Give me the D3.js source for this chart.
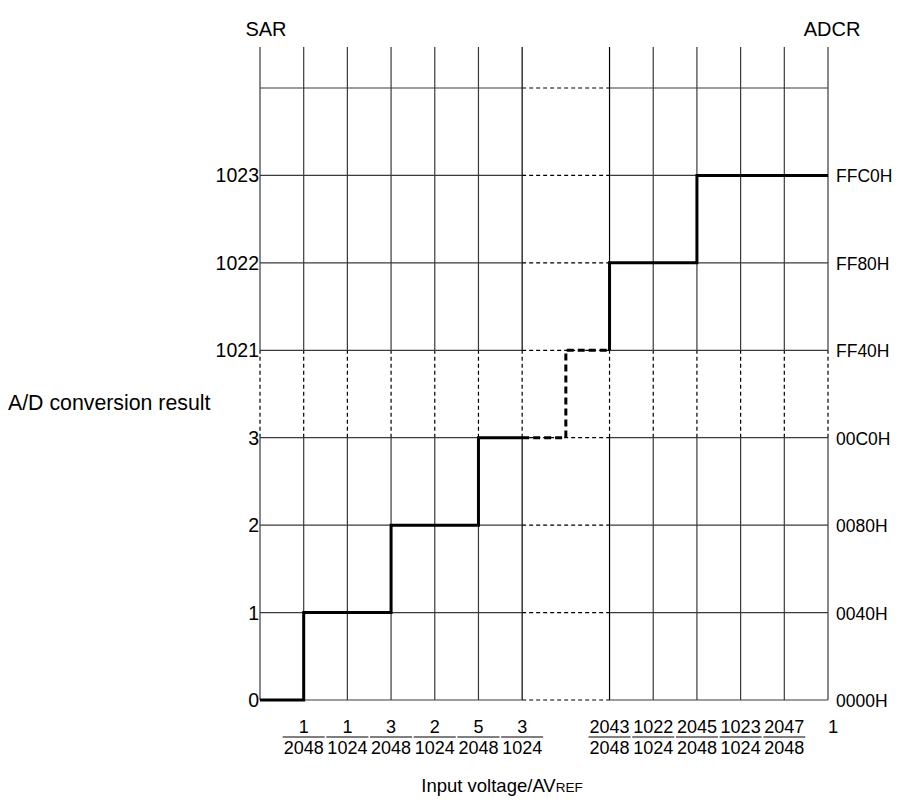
<!DOCTYPE html>
<html>
<head>
<meta charset="utf-8">
<script src="https://cdn.jsdelivr.net/npm/d3@7"></script>
<style>
  body { margin: 0; background: #fff; }
  text { font-family: "Liberation Sans", Arial, sans-serif; fill: #000; }
</style>
</head>
<body>
<svg id="chart" width="913" height="806"></svg>
<script>
// left (SAR) and right (ADCR) labels for each row, bottom to top
var sarLabels = ["0", "1", "2", "3", "1021", "1022", "1023"];
var adcrLabels = ["0000H", "0040H", "0080H", "00C0H", "FF40H", "FF80H", "FFC0H"];

// x positions are counted in half-LSB steps (0 .. 13), the gap 6..8 is the break
var fracPos = [1, 2, 3, 4, 5, 6, 8, 9, 10, 11, 12];
var numerators = ["1", "1", "3", "2", "5", "3", "2043", "1022", "2045", "1023", "2047"];
var denominators = ["2048", "1024", "2048", "1024", "2048", "1024", "2048", "1024", "2048", "1024", "2048"];

// the transfer curve, as [x step, row]
var stepSolidLow = [[0, 0], [1, 0], [1, 1], [3, 1], [3, 2], [5, 2], [5, 3], [6, 3]];
var stepDashed = [[6, 3], [7, 3], [7, 4], [8, 4]];
var stepSolidHigh = [[8, 4], [8, 5], [10, 5], [10, 6], [13, 6]];

var gridCols = [0, 1, 2, 3, 4, 5, 6, 8, 9, 10, 11, 12, 13];
var gridRows = [0, 1, 2, 3, 4, 5, 6, 7];

var svg = d3.select("#chart");
var x = d3.scaleLinear().domain([0, 13]).range([260, 828]);
var y = d3.scaleLinear().domain([0, 7]).range([700, 88]);
var yTop = 47;
var gridCol = "#3a3a3a";

var grid = svg.append("g");

// vertical grid: solid, with a dashed part across the 3..1021 break
gridCols.forEach(function (c) {
    var xx = x(c);
    var col = (c == 6 || c == 8) ? "#000" : gridCol;
    grid.append("line").attr("x1", xx).attr("x2", xx).attr("y1", y(0)).attr("y2", y(3))
        .attr("stroke", col).attr("stroke-width", 1.2);
    grid.append("line").attr("x1", xx).attr("x2", xx).attr("y1", y(4)).attr("y2", yTop)
        .attr("stroke", col).attr("stroke-width", 1.2);
    grid.append("line").attr("x1", xx).attr("x2", xx).attr("y1", y(3)).attr("y2", y(4))
        .attr("stroke", "#000").attr("stroke-width", 1.2).attr("stroke-dasharray", "4,3");
});

// horizontal grid: solid, dashed across the 3/1024 .. 2043/2048 break
gridRows.forEach(function (r) {
    var yy = y(r);
    grid.append("line").attr("x1", x(0)).attr("x2", x(6)).attr("y1", yy).attr("y2", yy)
        .attr("stroke", gridCol).attr("stroke-width", 1.2);
    grid.append("line").attr("x1", x(8)).attr("x2", x(13)).attr("y1", yy).attr("y2", yy)
        .attr("stroke", gridCol).attr("stroke-width", 1.2);
    grid.append("line").attr("x1", x(6)).attr("x2", x(8)).attr("y1", yy).attr("y2", yy)
        .attr("stroke", "#000").attr("stroke-width", 1.2).attr("stroke-dasharray", "4,3");
});

// the step curve
var line = d3.line().x(function (d) { return x(d[0]); }).y(function (d) { return y(d[1]); });
[stepSolidLow, stepSolidHigh].forEach(function (pts) {
    svg.append("path").attr("d", line(pts)).attr("fill", "none")
        .attr("stroke", "#000").attr("stroke-width", 3);
});
svg.append("path").attr("d", line(stepDashed)).attr("fill", "none")
    .attr("stroke", "#000").attr("stroke-width", 3).attr("stroke-dasharray", "7,4");

// row labels
svg.selectAll("text.sar").data(sarLabels).enter().append("text")
    .attr("class", "sar")
    .attr("x", x(0) - 1)
    .attr("y", function (d, i) { return y(i) + 7; })
    .attr("text-anchor", "end")
    .attr("font-size", 19.5)
    .text(function (d) { return d; });

svg.selectAll("text.adcr").data(adcrLabels).enter().append("text")
    .attr("class", "adcr")
    .attr("x", x(13) + 8)
    .attr("y", function (d, i) { return y(i) + 7; })
    .attr("text-anchor", "start")
    .attr("font-size", 17.5)
    .text(function (d) { return d; });

svg.append("text").attr("x", 266).attr("y", 36).attr("text-anchor", "middle")
    .attr("font-size", 20).text("SAR");
svg.append("text").attr("x", 832).attr("y", 36).attr("text-anchor", "middle")
    .attr("font-size", 20).text("ADCR");

svg.append("text").attr("x", 8).attr("y", 410).attr("font-size", 21.3)
    .text("A/D conversion result");

// fractions under the x axis
var frac = svg.selectAll("g.frac").data(fracPos).enter().append("g")
    .attr("class", "frac")
    .attr("transform", function (d) { return "translate(" + x(d) + ",0)"; });
frac.append("text").attr("x", 0).attr("y", 733).attr("text-anchor", "middle")
    .attr("font-size", 18).text(function (d, i) { return numerators[i]; });
var den = frac.append("text").attr("x", 0).attr("y", 754).attr("text-anchor", "middle")
    .attr("font-size", 18).text(function (d, i) { return denominators[i]; });
den.each(function () {
    var w = this.getComputedTextLength() + 2;
    d3.select(this.parentNode).append("line")
        .attr("x1", -w / 2).attr("x2", w / 2).attr("y1", 737).attr("y2", 737)
        .attr("stroke", "#000").attr("stroke-width", 1.2);
});
svg.append("text").attr("x", x(13)).attr("y", 733).attr("font-size", 18.5).text("1");

// axis title with small-caps REF
var title = svg.append("text").attr("x", 502).attr("y", 792).attr("text-anchor", "middle")
    .attr("font-size", 18.5);
title.append("tspan").text("Input voltage/AV");
title.append("tspan").attr("font-size", 13.5).text("REF");
</script>
</body>
</html>
